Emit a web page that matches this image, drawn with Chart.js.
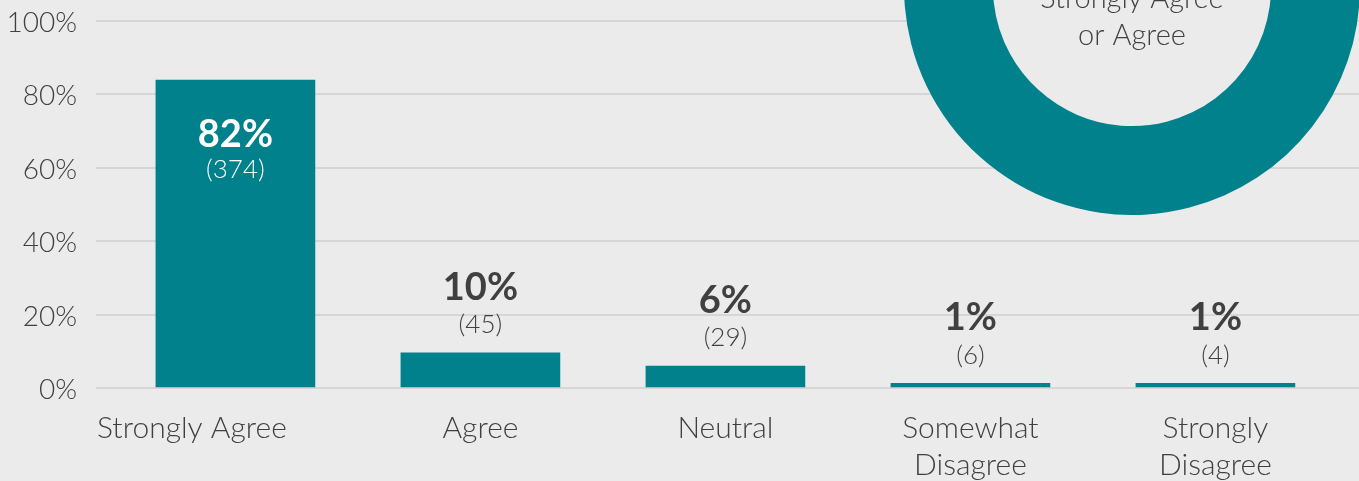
<!DOCTYPE html>
<html><head><meta charset="utf-8">
<script src="https://cdn.jsdelivr.net/npm/chart.js@4"></script>
<style>
html,body{margin:0;padding:0;background:#ebebeb;overflow:hidden;width:1359px;height:481px;}
#wrap{position:relative;width:1359px;height:481px;overflow:hidden;}
#bar{position:absolute;left:0;top:0;}
#donut{position:absolute;left:904px;top:-241px;}
</style></head><body>
<div id="wrap">
<canvas id="bar" width="1359" height="481"></canvas>
<canvas id="donut" width="456" height="456"></canvas>
</div>
<script>
const categories = ['Strongly Agree', 'Agree', 'Neutral', ['Somewhat', 'Disagree'], ['Strongly', 'Disagree']];
const shareValues = [83.9, 9.6, 6.0, 1.3, 1.3];
const percentLabels = ['82%', '10%', '6%', '1%', '1%'];
const countLabels = ['(374)', '(45)', '(29)', '(6)', '(4)'];
const yTicks = [0, 20, 40, 60, 80, 100];
const donutValues = [92, 8];
const donutCaption = ['Strongly Agree', 'or Agree'];

const TEAL = '#01818c';
const BG = '#ebebeb';
const TEXT = '#404040';
const FONT = 'Lato, "Open Sans", sans-serif';

const barLabels = {
  id: 'barLabels',
  afterDatasetsDraw(chart) {
    const ctx = chart.ctx;
    const meta = chart.getDatasetMeta(0);
    ctx.save();
    ctx.textAlign = 'center';
    ctx.textBaseline = 'middle';
    meta.data.forEach((bar, i) => {
      const inside = shareValues[i] > 50;
      ctx.fillStyle = inside ? '#ffffff' : TEXT;
      const pY = inside ? bar.y + 55 : bar.y - 65;
      const cY = inside ? bar.y + 90 : bar.y - 28;
      ctx.font = 'bold 38px ' + FONT;
      ctx.fillText(percentLabels[i], bar.x, pY);
      ctx.font = '300 26px ' + FONT;
      ctx.fillText(countLabels[i], bar.x, cY);
    });
    const xs = chart.scales.x;
    const area = chart.chartArea;
    ctx.font = '300 30px ' + FONT;
    ctx.fillStyle = TEXT;
    categories.forEach((c, i) => {
      const lines = Array.isArray(c) ? c : [c];
      let x = xs.getPixelForValue(i);
      if (i === 0) { ctx.textAlign = 'left'; x = area.left + 1; } else { ctx.textAlign = 'center'; }
      lines.forEach((ln, k) => ctx.fillText(ln, x, area.bottom + 40 + k * 37));
    });
    ctx.restore();
  }
};

new Chart(document.getElementById('bar'), {
  type: 'bar',
  data: {
    datasets: [{
      data: shareValues.map((v, i) => ({ x: i, y: v })),
      backgroundColor: TEAL,
      borderWidth: 0,
      barThickness: 159
    }]
  },
  options: {
    responsive: false,
    animation: false,
    layout: { padding: { top: 21, bottom: 93, left: 0, right: 0 } },
    plugins: { legend: { display: false }, tooltip: { enabled: false } },
    scales: {
      x: {
        type: 'linear', display: false, offset: false, min: -0.569, max: 4.586,
        grid: { offset: false }
      },
      y: {
        min: 0, max: 100,
        afterBuildTicks(scale) { scale.ticks = yTicks.map(v => ({ value: v })); },
        afterFit(scale) { scale.width = 96; scale.paddingTop = 0; scale.paddingBottom = 0; },
        border: { display: false },
        grid: { color: '#d6d6d6', lineWidth: 2, drawTicks: false },
        ticks: {
          padding: 19, color: TEXT, labelOffset: 2,
          font: { family: FONT, size: 28, weight: '300' },
          callback: v => v + '%'
        }
      }
    }
  },
  plugins: [barLabels]
});

const donutDecor = {
  id: 'donutDecor',
  beforeDatasetsDraw(chart) {
    const arc = chart.getDatasetMeta(0).data[0];
    const ctx = chart.ctx;
    ctx.save();
    ctx.fillStyle = BG;
    ctx.beginPath();
    ctx.arc(arc.x, arc.y, arc.outerRadius, 0, Math.PI * 2);
    ctx.fill();
    ctx.restore();
  },
  afterDraw(chart) {
    const arc = chart.getDatasetMeta(0).data[0];
    const ctx = chart.ctx;
    ctx.save();
    ctx.fillStyle = TEXT;
    ctx.textAlign = 'center';
    ctx.textBaseline = 'alphabetic';
    ctx.font = '300 29px ' + FONT;
    donutCaption.forEach((t, k) => ctx.fillText(t, arc.x, arc.y + 21 + k * 37));
    ctx.restore();
  }
};

new Chart(document.getElementById('donut'), {
  type: 'doughnut',
  data: {
    labels: ['Strongly Agree or Agree', 'Other'],
    datasets: [{ data: donutValues, backgroundColor: [TEAL, '#d6d6d6'], borderWidth: 0 }]
  },
  options: {
    responsive: false,
    animation: false,
    cutout: '61%',
    layout: { padding: 0 },
    plugins: { legend: { display: false }, tooltip: { enabled: false } }
  },
  plugins: [donutDecor]
});
</script>
</body></html>
